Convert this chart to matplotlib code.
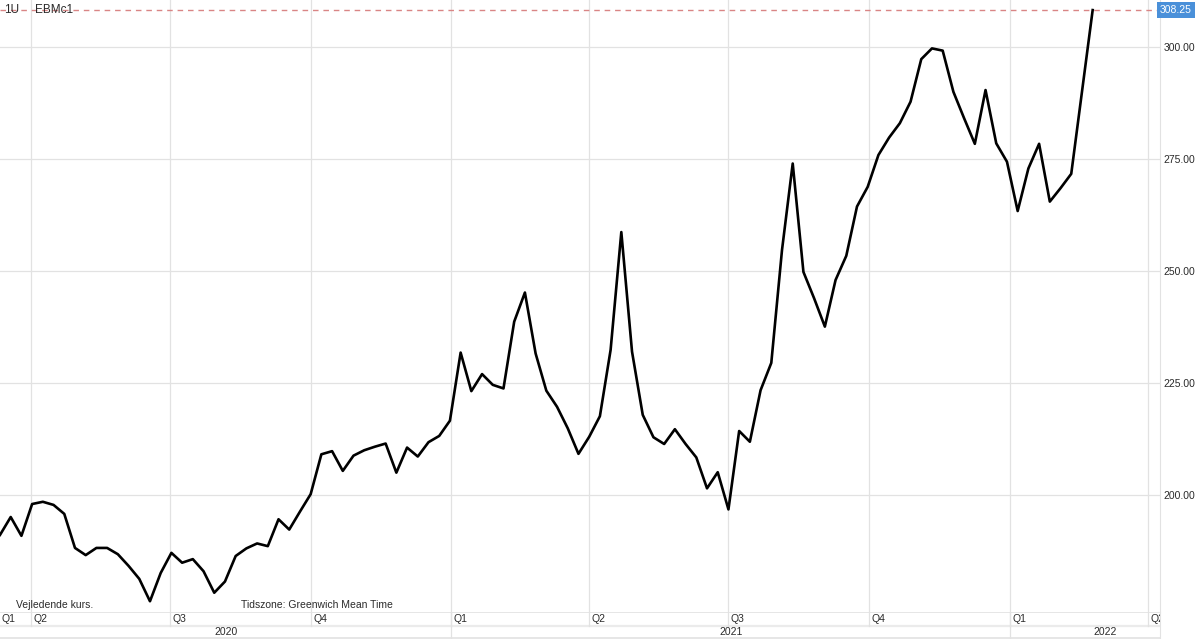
import numpy as np
import pandas as pd
import matplotlib
matplotlib.use("Agg")
import matplotlib.pyplot as plt
import matplotlib.transforms as mtrans

plt.rcParams["font.family"] = ["Liberation Sans", "DejaVu Sans"]

# --- data (weekly closes) ---
start = "2020-03-12"
closes = [
    191.1, 195.1, 190.9, 198.0, 198.5, 197.8, 195.8, 188.2, 186.6, 188.2,
    188.2, 186.8, 184.2, 181.3, 176.3, 182.6, 187.1, 184.9, 185.7, 183.0,
    178.2, 180.7, 186.4, 188.1, 189.2, 188.6, 194.6, 192.3, 196.3, 200.2,
    209.1, 209.8, 205.4, 208.8, 210.0, 210.8, 211.5, 205.0, 210.6, 208.6,
    211.8, 213.2, 216.6, 231.8, 223.2, 227.0, 224.6, 223.8, 238.7, 245.2,
    231.6, 223.3, 219.7, 214.9, 209.2, 213.0, 217.6, 232.4, 258.7, 232.0,
    217.9, 212.9, 211.4, 214.7, 211.4, 208.4, 201.5, 205.1, 196.8, 214.3,
    211.9, 223.4, 229.5, 254.7, 274.0, 249.8, 243.9, 237.6, 248.0, 253.4,
    264.4, 268.8, 275.9, 279.8, 283.0, 287.8, 297.3, 299.7, 299.2, 290.0,
    284.1, 278.4, 290.4, 278.5, 274.4, 263.4, 272.9, 278.4, 265.5, 268.5,
    271.7, np.nan, 308.25,
]
last_price = 308.25
y_ticks = [200, 225, 250, 275, 300]
quarters = pd.date_range("2020-04-01", "2022-04-01", freq="QS")
years = [2020, 2021, 2022]

dates = pd.date_range(start, periods=len(closes), freq="7D")
closes = np.array(closes)
ok = np.isfinite(closes)

x_left = pd.Timestamp(start)
x_right = pd.Timestamp("2022-04-09")

grid_c = "#e2e2e2"
text_c = "#2a2a2a"

fig = plt.figure(figsize=(12, 6.39), dpi=100)
W, H = 1200, 639
ax = fig.add_axes([0, 27 / H, 1160 / W, 612 / H])
axb = fig.add_axes([0, 0, 1160 / W, 27 / H])

# main chart
ax.plot(dates[ok], closes[ok], color="black", lw=1.9, zorder=4)
ax.set_xlim(x_left, x_right)
ax.set_ylim(173.9, 310.5)
for q in quarters:
    ax.axvline(q, color=grid_c, lw=0.9, zorder=1)
for v in y_ticks:
    ax.axhline(v, color=grid_c, lw=0.9, zorder=1)

ax.yaxis.tick_right()
ax.set_yticks(y_ticks)
ax.set_yticklabels([f"{v:.2f}" for v in y_ticks])
ax.tick_params(axis="y", length=0, pad=2.5, labelsize=7.5, labelcolor=text_c)
ax.set_xticks([])
for s in ["top", "left", "bottom"]:
    ax.spines[s].set_visible(False)
ax.spines["right"].set_color(grid_c)

# last price line + label
ax.axhline(last_price, color="#d98585", lw=1, dashes=(4, 3.5), zorder=3)
tr = mtrans.blended_transform_factory(ax.transAxes, ax.transData)
ax.text(1.0, last_price, f"{last_price:.2f}", transform=tr, ha="left", va="center",
        fontsize=7.5, color="white", clip_on=False,
        bbox=dict(boxstyle="square,pad=0.32", fc="#4a90d9", ec="none"))
ax.text(4 / 1160, last_price, "1U", transform=tr, ha="left", va="center",
        fontsize=8.5, color=text_c, zorder=5)
ax.text(35 / 1160, last_price, "EBMc1", transform=tr, ha="left", va="center",
        fontsize=8.5, color=text_c, zorder=5)

ax.text(16 / 1160, 7 / 612, "Vejledende kurs.", transform=ax.transAxes,
        ha="left", va="center", fontsize=7.5, color=text_c)
ax.text(241 / 1160, 7 / 612, "Tidszone: Greenwich Mean Time", transform=ax.transAxes,
        ha="left", va="center", fontsize=7.5, color=text_c)

# bottom time axis band
axb.set_xlim(x_left, x_right)
axb.set_ylim(0, 1)
axb.set_xticks([])
axb.set_yticks([])
for s in ["top", "left", "bottom"]:
    axb.spines[s].set_visible(False)
axb.spines["right"].set_color(grid_c)
axb.axhline(1.0, color=grid_c, lw=1.2)
axb.axhline(0.5, color="#ebebeb", lw=1.6)
axb.axhline(0.02, color=grid_c, lw=1.2)

off = mtrans.offset_copy(axb.transData, fig=fig, x=2.5, y=0, units="dots")
for q in quarters:
    axb.plot([q, q], [0.5, 1.0], color=grid_c, lw=0.9)
    axb.text(q, 0.74, f"Q{(q.month - 1) // 3 + 1}", transform=off,
             ha="left", va="center", fontsize=7.5, color=text_c, clip_on=True)
axb.text(2 / 1160, 0.74, "Q1", transform=axb.transAxes, ha="left", va="center",
         fontsize=7.5, color=text_c)

px_per_day = 1160 / (x_right - x_left).days
ext_right = x_right + pd.Timedelta(days=40 / px_per_day)
for yr in years:
    y0 = max(pd.Timestamp(f"{yr}-01-01"), x_left)
    y1 = min(pd.Timestamp(f"{yr + 1}-01-01"), ext_right)
    mid = y0 + (y1 - y0) / 2
    if yr > years[0]:
        axb.plot([y0, y0], [0, 1], color=grid_c, lw=0.9)
    axb.text(mid, 0.25, str(yr), ha="center", va="center", fontsize=7.5,
             color=text_c, clip_on=False)

fig.savefig("out.png", dpi=100)
